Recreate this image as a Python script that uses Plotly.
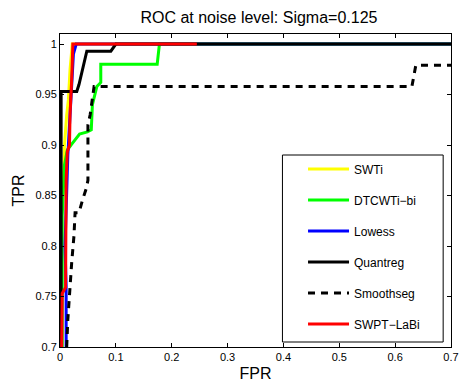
import plotly.graph_objects as go

# ---- data ----
swti_x = [0.002, 0.002, 0.006, 0.008, 0.012, 0.015, 0.018, 0.022, 0.7]
swti_y = [0.70, 0.83, 0.86, 0.90, 0.93, 0.945, 0.975, 1.0, 1.0]

dtcwt_x = [0.004, 0.004, 0.008, 0.013, 0.021, 0.035, 0.049, 0.056, 0.058, 0.066, 0.073, 0.073, 0.174, 0.178, 0.7]
dtcwt_y = [0.70, 0.83, 0.88, 0.895, 0.901, 0.911, 0.913, 0.915, 0.94, 0.958, 0.962, 0.98, 0.98, 1.0, 1.0]

lowess_x = [0.011, 0.011, 0.009, 0.012, 0.014, 0.017, 0.020, 0.024, 0.029, 0.7]
lowess_y = [0.70, 0.76, 0.80, 0.86, 0.89, 0.92, 0.95, 0.99, 1.0, 1.0]

quant_x = [0.002, 0.002, 0.030, 0.034, 0.048, 0.091, 0.100, 0.7]
quant_y = [0.70, 0.953, 0.953, 0.960, 0.993, 0.993, 1.0, 1.0]

smooth_x = [0.012, 0.014, 0.021, 0.025, 0.027, 0.034, 0.040, 0.047, 0.050, 0.050, 0.054, 0.061, 0.630, 0.637, 0.7]
smooth_y = [0.70, 0.727, 0.784, 0.81, 0.833, 0.833, 0.845, 0.857, 0.865, 0.92, 0.93, 0.958, 0.958, 0.979, 0.979]

swpt_x = [0.003, 0.004, 0.010, 0.011, 0.013, 0.017, 0.018, 0.019, 0.021, 0.023, 0.245]
swpt_y = [0.70, 0.753, 0.759, 0.865, 0.893, 0.90, 0.93, 0.95, 0.966, 1.0, 1.0]

names = ["SWTi", "DTCWTi\u2212bi", "Lowess", "Quantreg", "Smoothseg", "SWPT\u2212LaBi"]
colors = ["#ffff00", "#00ff00", "#0000ff", "#000000", "#000000", "#ff0000"]
dashes = ["solid", "solid", "solid", "solid", "7px,6px", "solid"]

xticks = [0, 0.1, 0.2, 0.3, 0.4, 0.5, 0.6, 0.7]
xticktext = ["0", "0.1", "0.2", "0.3", "0.4", "0.5", "0.6", "0.7"]
yticks = [0.7, 0.75, 0.8, 0.85, 0.9, 0.95, 1.0]
yticktext = ["0.7", "0.75", "0.8", "0.85", "0.9", "0.95", "1"]

series = [(swti_x, swti_y), (dtcwt_x, dtcwt_y), (lowess_x, lowess_y),
          (quant_x, quant_y), (smooth_x, smooth_y), (swpt_x, swpt_y)]

FONT = "Liberation Sans, Arial, Helvetica, sans-serif"

fig = go.Figure()
for i, ((x, y), n, c, d) in enumerate(zip(series, names, colors, dashes)):
    fig.add_trace(go.Scatter(x=x, y=y, mode="lines", name=n, legendgroup=f"g{i}",
                             line=dict(color=c, width=3, dash=d)))

W, H = 467, 388
L, R, T, B = 60, 8, 34, 41
pw, ph = W - L - R, H - T - B

def px2paperx(px):
    return (px - L) / pw

def px2papery(py):
    return (H - B - py) / ph

fig.add_shape(type="rect", xref="paper", yref="paper",
              x0=px2paperx(287), x1=px2paperx(451), y0=px2papery(342), y1=px2papery(155),
              line=dict(color="black", width=1), fillcolor="white", layer="below")

fig.update_layout(
    width=W, height=H,
    margin=dict(l=L, r=R, t=T, b=B),
    paper_bgcolor="white", plot_bgcolor="white",
    font=dict(family=FONT, size=11, color="black"),
    title=dict(text="ROC at noise level: Sigma=0.125", x=(263 - L) / pw, xref="paper",
               y=1 - 17 / H, yanchor="middle", xanchor="center",
               font=dict(family=FONT, size=16, color="black")),
    showlegend=True,
    legend=dict(x=px2paperx(308), y=px2papery(154.5), xanchor="left", yanchor="top",
                bgcolor="rgba(0,0,0,0)", borderwidth=0, tracegroupgap=12, itemwidth=41,
                font=dict(family=FONT, size=12, color="black")),
)
fig.update_xaxes(range=[0, 0.7], tickvals=xticks, ticktext=xticktext,
                 ticks="inside", ticklen=4, tickcolor="black",
                 showline=True, linecolor="black", linewidth=1, mirror="ticks",
                 showgrid=False, zeroline=False,
                 title=dict(text="FPR", standoff=5, font=dict(family=FONT, size=16)))
fig.update_yaxes(range=[0.7, 1.01], tickvals=yticks, ticktext=yticktext,
                 ticks="inside", ticklen=4, tickcolor="black",
                 showline=True, linecolor="black", linewidth=1, mirror="ticks",
                 showgrid=False, zeroline=False,
                 title=dict(text="TPR", standoff=6, font=dict(family=FONT, size=16)))

fig.write_html("out.html")
